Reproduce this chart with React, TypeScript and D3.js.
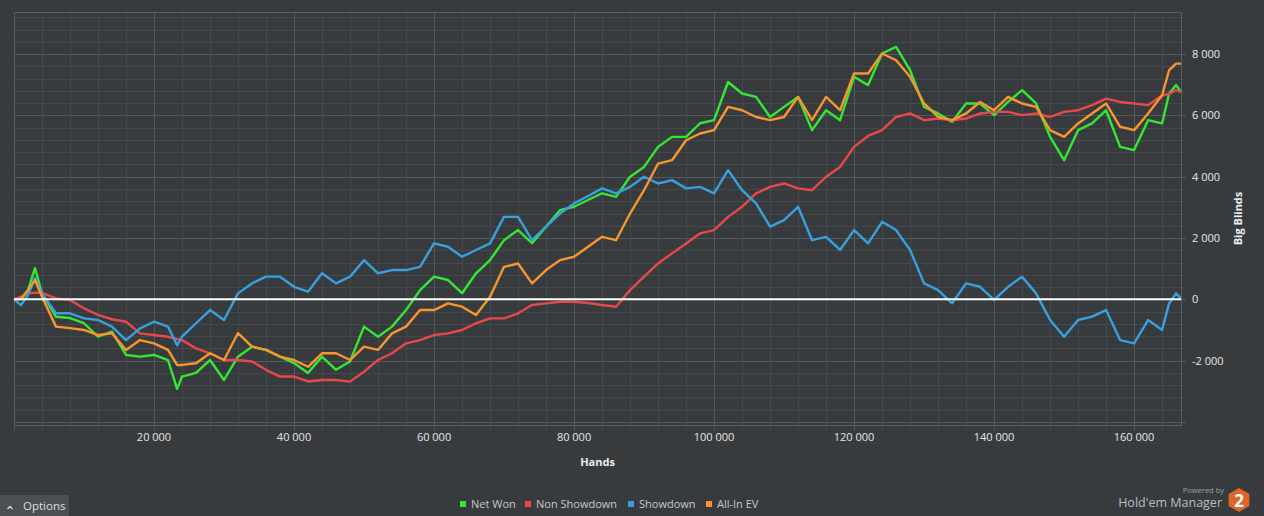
import React from "react";
import * as d3 from "d3";

const hands = [0,1000,2000,3000,4000,6000,8000,10000,12000,14000,16000,18000,20000,22000,23300,24000,26000,28000,30000,32000,34000,36000,38000,40000,42000,44000,46000,48000,50000,52000,54000,56000,58000,60000,62000,64000,66000,68000,70000,72000,74000,76000,78000,80000,82000,84000,86000,88000,90000,92000,94000,96000,98000,100000,102000,104000,106000,108000,110000,112000,114000,116000,118000,120000,122000,124000,126000,128000,130000,132000,134000,136000,138000,140000,142000,144000,146000,148000,150000,152000,154000,156000,158000,160000,162000,164000,165000,166000,166700];

const netWon = [0,30,300,1020,200,-570,-610,-780,-1220,-1050,-1815,-1870,-1815,-1980,-2920,-2520,-2400,-1980,-2630,-1870,-1545,-1650,-1870,-2080,-2400,-1870,-2300,-2030,-890,-1220,-890,-350,300,740,630,200,850,1280,1930,2260,1830,2370,2910,3020,3240,3460,3345,4000,4320,4975,5300,5300,5745,5845,7090,6715,6605,5950,6280,6605,5520,6170,5845,7260,6990,8020,8235,7475,6280,6065,5790,6390,6390,6010,6440,6825,6390,5300,4540,5520,5740,6170,4975,4870,5845,5740,6715,6990,6770];

const nonShowdown = [0,85,195,215,215,30,-20,-290,-510,-650,-730,-1110,-1165,-1220,-1300,-1330,-1600,-1760,-1980,-1980,-2030,-2300,-2520,-2520,-2680,-2630,-2630,-2685,-2360,-1980,-1760,-1435,-1330,-1165,-1110,-1000,-780,-620,-620,-455,-185,-130,-80,-80,-120,-185,-240,300,740,1170,1500,1825,2150,2260,2690,3020,3455,3670,3780,3620,3560,4000,4320,4975,5330,5520,5950,6065,5845,5900,5845,5900,6065,6115,6115,6010,6065,5950,6115,6170,6335,6550,6440,6390,6335,6660,6700,6825,6770];

const showdown = [0,-190,140,690,195,-455,-455,-620,-675,-890,-1330,-945,-730,-890,-1500,-1220,-780,-350,-675,195,520,740,740,410,250,850,520,740,1280,850,955,955,1060,1825,1715,1390,1610,1825,2690,2690,1930,2370,2800,3130,3370,3620,3455,3670,4000,3780,3890,3620,3670,3455,4215,3560,3130,2370,2585,3020,1930,2040,1610,2260,1825,2530,2260,1610,520,300,-130,520,410,-20,410,740,195,-675,-1220,-675,-565,-350,-1330,-1435,-675,-1000,-130,195,30];

const allInEV = [0,0,300,630,85,-890,-940,-1000,-1165,-1110,-1650,-1330,-1435,-1650,-2140,-2140,-2085,-1760,-1980,-1100,-1545,-1650,-1870,-1980,-2200,-1760,-1760,-1980,-1545,-1650,-1110,-890,-350,-350,-130,-240,-510,85,1060,1170,520,955,1280,1390,1715,2040,1930,2800,3560,4430,4540,5190,5410,5520,6280,6170,5950,5845,5950,6605,5845,6605,6170,7370,7370,8020,7800,7260,6390,5950,5845,6065,6440,6170,6605,6390,6280,5520,5300,5740,6065,6390,5630,5520,6065,6660,7475,7690,7690];

const seriesNames = ["Net Won", "Non Showdown", "Showdown", "All-In EV"];
const seriesColors = ["#35e635", "#e8484b", "#38a0de", "#f7962f"];
const seriesValues = [netWon, nonShowdown, showdown, allInEV];

const xTicks = [20000, 40000, 60000, 80000, 100000, 120000, 140000, 160000];
const yTicks = [-2000, 0, 2000, 4000, 6000, 8000];

const W = 1264, H = 516;
const L = 14, R = 1181, T = 12, B = 425;
const FONT = "'Open Sans', 'Noto Sans', sans-serif";

const fmt = (v: number) => {
  const s = Math.abs(v).toString().replace(/\B(?=(\d{3})+(?!\d))/g, " ");
  return (v < 0 ? "-" : "") + s;
};

export default function App() {
  const x = d3.scaleLinear().domain([0, 166700]).range([L, R]);
  const y = d3.scaleLinear().domain([-4100, 9375]).range([B, T]);

  const minorX = d3.range(0, 166700, 4000);
  const majorX = d3.range(0, 166700, 20000);
  const minorY = d3.range(-4000, 9400, 400);
  const majorY = d3.range(-4000, 9400, 2000);

  const line = (vals: number[]) =>
    d3.line<number>().x((_, i) => x(hands[i])).y((v) => y(v))(vals) || "";

  const legendX = [463, 528, 631, 709];

  return (
    <div style={{ position: "fixed", left: 0, top: 0, width: W, height: H, background: "#383b3e" }}>
      <svg width={W} height={H} style={{ display: "block" }}>
        <rect x={0} y={0} width={W} height={H} fill="#383b3e" />
        {minorY.map((v) => (
          <line key={"my" + v} x1={L} x2={R + 5} y1={Math.round(y(v)) + 0.5} y2={Math.round(y(v)) + 0.5} stroke="#45494c" strokeWidth={1} />
        ))}
        {minorX.map((v) => (
          <line key={"mx" + v} x1={Math.round(x(v)) + 0.5} x2={Math.round(x(v)) + 0.5} y1={T} y2={B + 5} stroke="#45494c" strokeWidth={1} />
        ))}
        {majorY.map((v) => (
          <line key={"My" + v} x1={L} x2={R + 5} y1={Math.round(y(v)) + 0.5} y2={Math.round(y(v)) + 0.5} stroke="#55595d" strokeWidth={1} />
        ))}
        {majorX.map((v) => (
          <line key={"Mx" + v} x1={Math.round(x(v)) + 0.5} x2={Math.round(x(v)) + 0.5} y1={T} y2={B + 5} stroke="#55595d" strokeWidth={1} />
        ))}
        <rect x={L + 0.5} y={T + 0.5} width={R - L} height={B - T} fill="none" stroke="#5a5e62" strokeWidth={1} />

        {seriesValues.map((vals, i) => (
          <path key={seriesNames[i]} d={line(vals)} fill="none" stroke={seriesColors[i]} strokeWidth={2.4} strokeLinejoin="round" />
        ))}
        <line x1={L} x2={R} y1={y(0)} y2={y(0)} stroke="#ffffff" strokeWidth={2} />

        {xTicks.map((v) => (
          <text key={"xt" + v} x={x(v)} y={441} textAnchor="middle" fontFamily={FONT} fontSize={11} fill="#e6e6e6">{fmt(v)}</text>
        ))}
        {yTicks.map((v) => (
          <text key={"yt" + v} x={1192} y={y(v) + 4} textAnchor="start" fontFamily={FONT} fontSize={11} fill="#e6e6e6">{fmt(v)}</text>
        ))}
        <text x={(L + R) / 2} y={466} textAnchor="middle" fontFamily={FONT} fontSize={11} fontWeight="bold" fill="#eeeeee">Hands</text>
        <text transform={`translate(1242, ${(T + B) / 2}) rotate(-90)`} textAnchor="middle" fontFamily={FONT} fontSize={11} fontWeight="bold" fill="#eeeeee">Big Blinds</text>

        {seriesNames.map((n, i) => (
          <g key={"lg" + n}>
            <rect x={legendX[i] - 3} y={501} width={6} height={6} fill={seriesColors[i]} />
            <text x={legendX[i] + 8} y={508} fontFamily={FONT} fontSize={11} fill="#c8c8c8">{n}</text>
          </g>
        ))}

        <rect x={0} y={495} width={69} height={21} fill="#4c4f52" />
        <path d="M7.5,509 L10,506.5 L12.5,509" fill="none" stroke="#dddddd" strokeWidth={1.3} />
        <text x={23} y={510} fontFamily={FONT} fontSize={11.5} fill="#dddddd">Options</text>

        <text x={1224} y={492.5} textAnchor="end" fontFamily={FONT} fontSize={7.5} fill="#a0a0a0">Powered by</text>
        <text x={1222} y={507} textAnchor="end" fontFamily={FONT} fontSize={12.5} fill="#bdbdbd">Hold'em Manager</text>
        <polygon
          points={d3.range(6).map((k) => {
            const a = Math.PI / 6 + (k * Math.PI) / 3;
            return `${1239 + 12 * Math.cos(a)},${500 + 12 * Math.sin(a)}`;
          }).join(" ")}
          fill="#df6528"
        />
        <text x={1239} y={506.5} textAnchor="middle" fontFamily={FONT} fontSize={17} fontWeight="bold" fill="#ffffff">2</text>
      </svg>
    </div>
  );
}
